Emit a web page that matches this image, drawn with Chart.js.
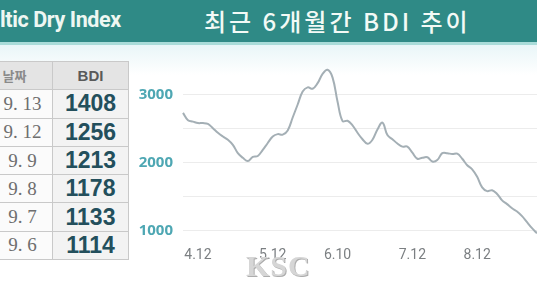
<!DOCTYPE html>
<html>
<head>
<meta charset="utf-8">
<script src="https://cdn.jsdelivr.net/npm/chart.js@4/dist/chart.umd.min.js"></script>
<style>
  html, body { margin:0; padding:0; }
  body { width:537px; height:286px; position:relative; overflow:hidden;
         background:linear-gradient(#e9f6f8 45px, #ffffff 75px); font-family:'Noto Sans', sans-serif; }
  #header { position:absolute; left:0; top:0; width:537px; height:42px; background:#2f8a86;
            border-bottom:3px solid #a9dcd9; }
  #sub { position:absolute; left:0px; top:7px; color:#eef7f2; font:bold 21.5px Roboto, sans-serif; letter-spacing:-0.4px; }
  #title { position:absolute; left:204px; top:3px; color:#f3faf6; font:500 24px 'Noto Sans CJK KR', sans-serif;
           letter-spacing:3px; white-space:nowrap; }
  table { position:absolute; left:-24px; top:61px; border-collapse:collapse; }
  td, th { border:1px solid #c9c9c9; height:27.3px; padding:0; text-align:center; }
  th { background:#e4e4e4; }
  th.d { width:75px; color:#8a8a8a; font:bold 13px 'Noto Sans CJK KR', sans-serif; }
  th.b { width:75px; color:#5a5a5a; font:bold 15px 'Liberation Sans', sans-serif; }
  td.d { background:#fbfbfb; color:#6e6e6e; font:19px 'Liberation Serif', serif; padding-left:16px; text-align:center; }
  td.b { background:#f3f3f3; color:#234f5c; font:bold 23px 'Liberation Sans', sans-serif; }
  #wrap { position:absolute; left:130px; top:45px; width:407px; height:241px; }
  #mark { position:absolute; left:246px; top:249px; color:#d6d6d6; font:bold 30px 'Liberation Serif', serif;
          text-shadow:1px 1px 0 #adadad; letter-spacing:1px; }
</style>
</head>
<body>
<div id="header"></div>
<div id="sub">ltic Dry Index</div>
<div id="title">최근 6개월간 BDI 추이</div>

<table id="tbl"></table>

<div id="wrap"><canvas id="bdiChart"></canvas></div>
<div id="mark">KSC</div>

<script>
// table data
const tableDates = ['9. 13', '9. 12', '9. 9', '9. 8', '9. 7', '9. 6'];
const tableBdi = [1408, 1256, 1213, 1178, 1133, 1114];

// chart data (about six months)
const bdi = [
  2730, 2622, 2602, 2581, 2581, 2568, 2506, 2438, 2384, 2336,
  2261, 2138, 2070, 2022, 2084, 2097, 2186, 2288, 2384, 2418,
  2411, 2472, 2663, 2854, 3045, 3106, 3086, 3168, 3304, 3365,
  3250, 2895, 2609, 2615, 2547, 2438, 2343, 2275, 2336, 2486,
  2588, 2404, 2343, 2281, 2234, 2234, 2145, 2056, 2070, 2077,
  2015, 2036, 2138, 2138, 2125, 2131, 2056, 1961, 1900, 1790,
  1634, 1579, 1593, 1538, 1443, 1388, 1327, 1279, 1211, 1122,
  1034, 959
];
const xTickIndex = [3, 18, 31, 46, 59];
const xTickLabels = ['4.12', '5.12', '6.10', '7.12', '8.12'];
const yTicks = [1000, 1500, 2000, 2500, 3000];
const yLabelled = [1000, 2000, 3000];

let html = '<tr><th class="d">날짜</th><th class="b">BDI</th></tr>';
tableDates.forEach((d, i) => {
  html += '<tr><td class="d">' + d + '</td><td class="b">' + tableBdi[i] + '</td></tr>';
});
document.getElementById('tbl').innerHTML = html;

const ctx = document.getElementById('bdiChart').getContext('2d');
new Chart(ctx, {
  type: 'line',
  data: {
    labels: bdi.map((v, i) => i),
    datasets: [{
      data: bdi,
      borderColor: '#a4afb5',
      borderWidth: 2,
      pointRadius: 0,
      tension: 0.4,
      fill: false
    }]
  },
  options: {
    responsive: true,
    maintainAspectRatio: false,
    animation: false,
    layout: { padding: { top: 5.3, right: 0, bottom: 0, left: 0 } },
    plugins: { legend: { display: false }, tooltip: { enabled: false } },
    scales: {
      x: {
        grid: { display: false },
        border: { display: false },
        afterFit: s => { s.height = 48.7; },
        afterBuildTicks: s => { s.ticks = xTickIndex.map(v => ({ value: v })); },
        ticks: {
          autoSkip: false, maxRotation: 0, padding: 2,
          color: '#7b7f82',
          font: { family: 'Roboto', size: 14 },
          callback: (v, i) => xTickLabels[i]
        }
      },
      y: {
        min: 900, max: 3450,
        grid: { color: '#ececec', drawTicks: false },
        border: { display: false },
        afterFit: s => { s.width = 53; },
        afterBuildTicks: s => { s.ticks = yTicks.map(v => ({ value: v })); },
        ticks: {
          padding: 10,
          color: '#4ea7b3',
          font: { family: 'Open Sans', size: 15, weight: 'bold' },
          callback: v => yLabelled.includes(v) ? v : ''
        }
      }
    }
  }
});
</script>
</body>
</html>
